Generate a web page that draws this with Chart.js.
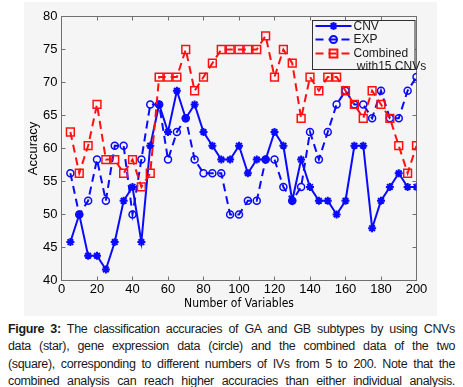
<!DOCTYPE html>
<html>
<head>
<meta charset="utf-8">
<script src="https://cdn.jsdelivr.net/npm/chart.js@4.4.1/dist/chart.umd.min.js"></script>
<style>
  html, body { margin: 0; padding: 0; background: #fff; }
  body { width: 463px; height: 387px; position: relative; overflow: hidden; }
  .panel { position: absolute; left: 24px; top: 2px; width: 413px; height: 314px; background: #f5f5f5; }
  #chart { position: absolute; left: 0; top: 0; }
  .caption { position: absolute; left: 8px; top: 321px; width: 447px;
    font: 12.5px 'Liberation Sans', Arial, sans-serif; letter-spacing: -0.35px;
    color: #1a1a1a; line-height: 17.4px; }
  .caption div { text-align: justify; text-align-last: justify; white-space: nowrap; }
</style>
</head>
<body>
<div class="panel"></div>
<canvas id="chart" width="463" height="318"></canvas>
<div class="caption">
  <div><b>Figure 3:</b> The classification accuracies of GA and GB subtypes by using CNVs</div>
  <div>data (star), gene expression data (circle) and the combined data of the two</div>
  <div>(square), corresponding to different numbers of IVs from 5 to 200. Note that the</div>
  <div>combined analysis can reach higher accuracies than either individual analysis.</div>
</div>
<script>
// number of variables (x) and accuracy (%) per method
const numVars = [5, 10, 15, 20, 25, 30, 35, 40, 45, 50, 55, 60, 65, 70, 75, 80, 85, 90, 95, 100,
                 105, 110, 115, 120, 125, 130, 135, 140, 145, 150, 155, 160, 165, 170, 175, 180, 185, 190, 195, 200];
const cnvAcc = [45.83, 50, 43.75, 43.75, 41.67, 45.83, 52.08, 54.17, 45.83, 60.42,
                66.67, 62.5, 68.75, 64.58, 66.67, 62.5, 60.42, 58.33, 58.33, 60.42,
                56.25, 58.33, 58.33, 62.5, 60.42, 52.08, 58.33, 54.17, 52.08, 52.08,
                50, 52.08, 60.42, 60.42, 47.92, 52.08, 54.17, 56.25, 54.17, 54.17];
const expAcc = [56.25, 50, 52.08, 58.33, 52.08, 60.42, 60.42, 50, 58.33, 66.67,
                66.67, 58.33, 62.5, 64.58, 58.33, 56.25, 56.25, 56.25, 50, 50,
                52.08, 52.08, 58.33, 58.33, 54.17, 52.08, 54.17, 62.5, 58.33, 62.5,
                66.67, 68.75, 66.67, 66.67, 64.58, 68.75, 64.58, 64.58, 68.75, 70.83];
const combinedAcc = [62.5, 56.25, 60.42, 66.67, 58.33, 58.33, 56.25, 58.33, 54.17, 56.25,
                     70.83, 70.83, 70.83, 75, 68.75, 70.83, 72.92, 75, 75, 75,
                     75, 75, 77.08, 70.83, 75, 72.92, 64.58, 70.83, 68.75, 70.83,
                     70.83, 68.75, 66.67, 64.58, 68.75, 66.67, 64.58, 60.42, 56.25, 60.42];
const seriesNames = ['CNV', 'EXP', 'Combined'];
const legendExtra = ' with15 CNVs';

const axisColor = '#707070';
const tickFont = { family: "'Liberation Sans', Arial, sans-serif", size: 13 };

const pts = (ys) => numVars.map((x, k) => ({ x, y: ys[k] }));

// matlab style box with inward ticks
const framePlugin = {
  id: 'frame',
  beforeDatasetsDraw(chart) {
    const { ctx, chartArea: a, scales: { x, y } } = chart;
    const tl = 4;
    ctx.save();
    ctx.strokeStyle = axisColor;
    ctx.lineWidth = 1;
    ctx.strokeRect(a.left, a.top, a.right - a.left, a.bottom - a.top);
    ctx.beginPath();
    x.ticks.forEach(t => {
      const px = Math.round(x.getPixelForValue(t.value) - 0.5) + 0.5;
      ctx.moveTo(px, a.bottom); ctx.lineTo(px, a.bottom - tl);
      ctx.moveTo(px, a.top);    ctx.lineTo(px, a.top + tl);
    });
    y.ticks.forEach(t => {
      const py = Math.round(y.getPixelForValue(t.value) - 0.5) + 0.5;
      ctx.moveTo(a.left, py);  ctx.lineTo(a.left + tl, py);
      ctx.moveTo(a.right, py); ctx.lineTo(a.right - tl, py);
    });
    ctx.stroke();
    ctx.restore();
  },
  afterDatasetsDraw(chart) {
    const { ctx, chartArea: a } = chart;
    const bx = 312.5, by = a.top + 4, bw = a.right - 1.5 - bx, bh = 49;
    ctx.save();
    ctx.fillStyle = '#f5f5f5';
    ctx.fillRect(bx, by, bw, bh);
    ctx.strokeStyle = '#303030';
    ctx.lineWidth = 1;
    ctx.strokeRect(bx, by, bw, bh);
    const rows = [by + 5.5, by + 19, by + 33];
    ctx.font = "12px 'Liberation Sans', Arial, sans-serif";
    ctx.textBaseline = 'middle';
    chart.data.datasets.forEach((ds, r) => {
      const yy = rows[r];
      ctx.strokeStyle = ds.borderColor;
      ctx.lineWidth = ds.borderWidth;
      ctx.setLineDash(ds.borderDash || []);
      ctx.beginPath();
      ctx.moveTo(bx + 3, yy); ctx.lineTo(bx + 39, yy);
      ctx.stroke();
      ctx.setLineDash([]);
      ctx.fillStyle = ds.pointBackgroundColor;
      Chart.helpers.drawPoint(ctx, {
        pointStyle: ds.pointStyle, radius: ds.pointRadius, rotation: 0, borderWidth: ds.pointBorderWidth
      }, bx + 21, yy);
      ctx.fillStyle = '#1a1a1a';
      ctx.fillText(ds.label, bx + 41, yy + 0.5);
    });
    ctx.fillText(legendExtra, bx + 41, rows[2] + 13);
    ctx.restore();
  }
};

new Chart(document.getElementById('chart'), {
  type: 'line',
  data: {
    datasets: [
      {
        label: seriesNames[0],
        data: pts(cnvAcc),
        borderColor: '#0a0aff',
        backgroundColor: 'transparent',
        borderWidth: 2,
        pointStyle: 'star',
        pointRadius: 4,
        pointBorderWidth: 2,
        pointBackgroundColor: '#0a0aff',
        order: 1,
      },
      {
        label: seriesNames[1],
        data: pts(expAcc),
        borderColor: '#0a0aff',
        backgroundColor: 'transparent',
        borderWidth: 2,
        borderDash: [8, 5],
        pointStyle: 'circle',
        pointRadius: 3.5,
        pointBorderWidth: 1.5,
        pointBackgroundColor: 'rgba(0,0,0,0)',
        order: 2,
      },
      {
        label: seriesNames[2],
        data: pts(combinedAcc),
        borderColor: '#ff1010',
        backgroundColor: 'transparent',
        borderWidth: 2,
        borderDash: [8, 5],
        pointStyle: 'rect',
        pointRadius: 5.5,
        pointBorderWidth: 1.5,
        pointBackgroundColor: 'rgba(0,0,0,0)',
        order: 0,
      },
    ],
  },
  options: {
    responsive: false,
    animation: false,
    devicePixelRatio: 1,
    layout: { padding: { left: 24, right: 46.5, top: 16.5, bottom: 5 } },
    plugins: { legend: { display: false }, tooltip: { enabled: false } },
    scales: {
      x: {
        type: 'linear',
        min: 0, max: 200,
        grid: { display: false, drawTicks: false },
        border: { display: false },
        ticks: { stepSize: 20, color: '#000', font: tickFont, padding: 1, maxRotation: 0 },
        title: { display: true, text: 'Number of Variables', color: '#000',
                 font: { family: "'Liberation Sans Narrow', 'DejaVu Sans Condensed', 'Liberation Sans', Arial, sans-serif", size: 12 },
                 padding: { top: 0, bottom: 2 } },
        afterFit: (s) => { s.height = 32.5; },
      },
      y: {
        min: 40, max: 80,
        grid: { display: false, drawTicks: false },
        border: { display: false },
        ticks: { stepSize: 5, color: '#000', font: tickFont, padding: 4 },
        title: { display: true, text: 'Accuracy', color: '#000', font: tickFont,
                 padding: { top: 2, bottom: 0 } },
        afterFit: (s) => { s.width = 37.5; },
      },
    },
  },
  plugins: [framePlugin],
});
</script>
</body>
</html>
